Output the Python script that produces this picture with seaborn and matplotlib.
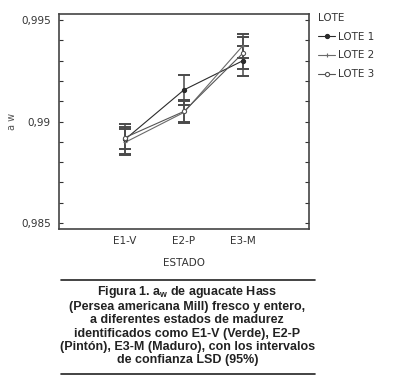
import matplotlib
matplotlib.use('Agg')
import matplotlib.pyplot as plt
import seaborn as sns
import pandas as pd
import numpy as np
from matplotlib.ticker import MultipleLocator, FuncFormatter

estados = ['E1-V', 'E2-P', 'E3-M']
lotes = ['LOTE 1', 'LOTE 2', 'LOTE 3']
aw_lote1 = [0.98912, 0.99156, 0.99300]
aw_lote2 = [0.98897, 0.99045, 0.99374]
aw_lote3 = [0.98921, 0.99050, 0.99337]
lsd_lote1 = [0.00074, 0.00074, 0.00074]
lsd_lote2 = [0.00064, 0.00054, 0.00059]
lsd_lote3 = [0.00054, 0.00054, 0.00079]

caption = ('Figura 1. a$_{\\mathregular{w}}$ de aguacate Hass\n'
           '(Persea americana Mill) fresco y entero,\n'
           'a diferentes estados de madurez\n'
           'identificados como E1-V (Verde), E2-P\n'
           '(Pintón), E3-M (Maduro), con los intervalos\n'
           'de confianza LSD (95%)')

sns.set_style('ticks')
narrow = ['Liberation Sans Narrow', 'DejaVu Sans Condensed', 'DejaVu Sans']
plt.rcParams['font.family'] = narrow
plt.rcParams['mathtext.default'] = 'regular'

df = pd.DataFrame({
    'ESTADO': estados * 3,
    'LOTE': [l for l in lotes for _ in estados],
    'aw': aw_lote1 + aw_lote2 + aw_lote3,
    'lsd': lsd_lote1 + lsd_lote2 + lsd_lote3,
})

colors = {'LOTE 1': '#2b2b2b', 'LOTE 2': '#6a6a6a', 'LOTE 3': '#555555'}
markers = {'LOTE 1': 'o', 'LOTE 2': '+', 'LOTE 3': 'o'}
faces = {'LOTE 1': '#2b2b2b', 'LOTE 2': '#6a6a6a', 'LOTE 3': 'white'}

fig = plt.figure(figsize=(4.19, 3.81), dpi=100)
ax = fig.add_axes([0.141, 0.399, 0.596, 0.564])

sns.lineplot(data=df, x='ESTADO', y='aw', hue='LOTE', palette=colors,
             linewidth=0.8, legend=False, ax=ax, sort=False)

for lote in lotes:
    sub = df[df['LOTE'] == lote]
    xs = np.arange(len(sub))
    ax.errorbar(xs, sub['aw'], yerr=sub['lsd'], fmt='none', ecolor='#4a4a4a',
                elinewidth=1.1, capsize=4, capthick=1.4, zorder=1)
    ax.plot(xs, sub['aw'], linestyle='none', marker=markers[lote], markersize=3.0,
            markerfacecolor=faces[lote], markeredgecolor=colors[lote],
            markeredgewidth=0.8, zorder=3)

ax.set_xlim(-1.12, 3.12)
ax.set_ylim(0.9847, 0.9953)
ax.yaxis.set_major_locator(MultipleLocator(0.005))
ax.yaxis.set_minor_locator(MultipleLocator(0.001))
ax.yaxis.set_major_formatter(FuncFormatter(lambda v, p: f'{v:.3f}'.rstrip('0').replace('.', ',')))
ax.tick_params(axis='y', which='both', direction='in', left=True, right=True,
               length=3, width=0.8, labelsize=7.5, colors='#333333', pad=6)
ax.tick_params(axis='x', length=0, labelsize=7.5, pad=5, colors='#333333')
for s in ax.spines.values():
    s.set_linewidth(1.2)
    s.set_color('#444444')

ax.set_xlabel('ESTADO', fontsize=7.5, color='#333333', labelpad=9)
ax.set_ylabel('a w', fontsize=7, color='#555555')
ax.yaxis.set_label_coords(-0.17, 0.5)

handles = [plt.Line2D([], [], color=colors[l], linewidth=0.8, marker=markers[l],
                      markersize=3.0, markerfacecolor=faces[l],
                      markeredgecolor=colors[l], markeredgewidth=0.8) for l in lotes]
leg = ax.legend(handles, lotes, title='LOTE', loc='upper left',
                bbox_to_anchor=(1.0, 1.05), frameon=False, fontsize=7.5,
                title_fontsize=7.5, handlelength=1.6, handletextpad=0.3,
                labelspacing=0.85, alignment='left')
leg.get_title().set_color('#333333')
for t in leg.get_texts():
    t.set_color('#333333')

fig.add_artist(plt.Line2D([0.146, 0.752], [1 - 279.5 / 381] * 2, color='#222222', linewidth=1.2))
fig.add_artist(plt.Line2D([0.146, 0.752], [1 - 374 / 381] * 2, color='#222222', linewidth=1.2))
fig.text(0.447, 1 - 284 / 381, caption, ha='center', va='top', fontsize=9,
         fontweight='bold', family=['Liberation Sans', 'DejaVu Sans'],
         color='#222222', linespacing=1.13)

plt.savefig('out.png', dpi=100)
plt.close()
